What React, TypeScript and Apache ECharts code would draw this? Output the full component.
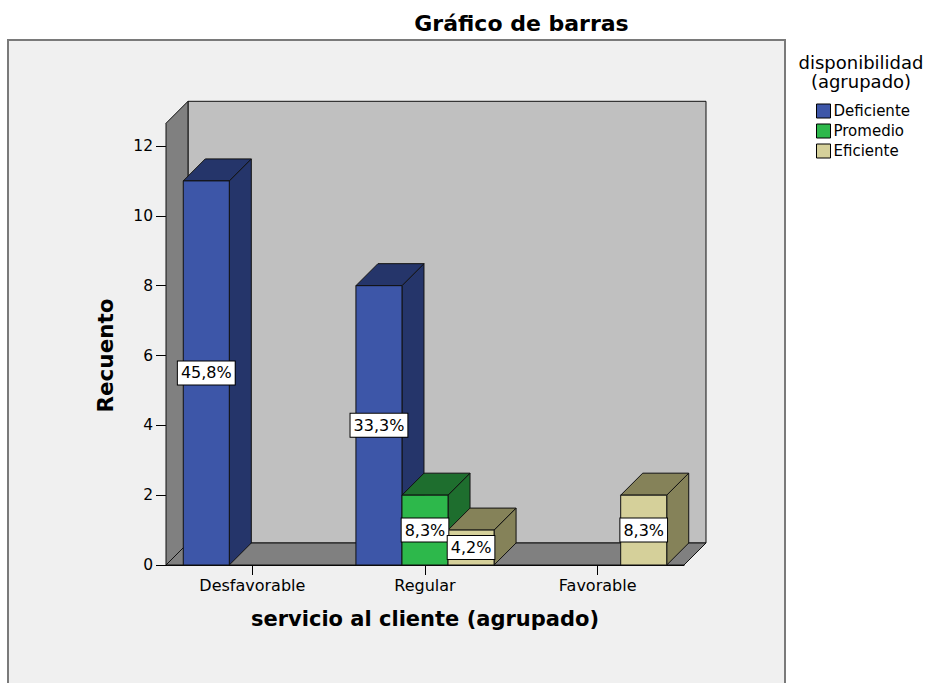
import React, { useEffect, useRef } from 'react';
import * as echarts from 'echarts';

const categories = ['Desfavorable', 'Regular', 'Favorable'];
const seriesNames = ['Deficiente', 'Promedio', 'Eficiente'];
const deficiente = [11, 8, 0];
const promedio = [0, 2, 0];
const eficiente = [0, 1, 2];
const yTicks = [0, 2, 4, 6, 8, 10, 12];
const wallTopValue = 12.65;

const frontColors = ['#3d56a8', '#2db84b', '#d5d09a'];
const darkColors = ['#25356a', '#1e6e2e', '#858259'];
const FONT = '"DejaVu Sans", sans-serif';
const DEPTH = 22;

const allValues = [deficiente, promedio, eficiente];
const total = allValues.reduce((a, arr) => a + arr.reduce((b, v) => b + v, 0), 0);

const pct = (v: number) => (v / total * 100).toFixed(1).replace('.', ',') + '%';

export default function App() {
  const ref = useRef<HTMLDivElement>(null);
  useEffect(() => {
    if (!ref.current) return;
    const chart = echarts.init(ref.current, null, { renderer: 'svg' });

    const barGeom = (api: any, c: number, v: number, s: number) => {
      const band = api.size([1, 0])[0];
      const bw = (band * 0.8) / 3;
      const cx = api.coord([c, 0])[0];
      const x0 = cx - band * 0.4 + s * bw;
      const yb = api.coord([c, 0])[1];
      const yt = api.coord([c, v])[1];
      return { x0, x1: x0 + bw, bw, yb, yt };
    };

    const barSeries = allValues.map((vals, s) => ({
      type: 'custom',
      name: seriesNames[s],
      coordinateSystem: 'cartesian2d',
      clip: false,
      z: 2,
      itemStyle: { color: frontColors[s], borderColor: '#000', borderWidth: 1 },
      encode: { x: 0, y: 1 },
      data: vals.map((v, i) => [i, v]),
      renderItem: (params: any, api: any) => {
        const c = api.value(0);
        const v = api.value(1);
        if (!v) return null;
        const g = barGeom(api, c, v, s);
        const D = DEPTH;
        const st = (fill: string) => ({ fill, stroke: '#111', lineWidth: 1 });
        return {
          type: 'group',
          children: [
            {
              type: 'polygon',
              shape: { points: [[g.x1, g.yt], [g.x1 + D, g.yt - D], [g.x1 + D, g.yb - D], [g.x1, g.yb]] },
              style: st(darkColors[s]),
            },
            {
              type: 'polygon',
              shape: { points: [[g.x0, g.yt], [g.x0 + D, g.yt - D], [g.x1 + D, g.yt - D], [g.x1, g.yt]] },
              style: st(darkColors[s]),
            },
            {
              type: 'rect',
              shape: { x: g.x0, y: g.yt, width: g.bw, height: g.yb - g.yt },
              style: st(frontColors[s]),
            },
          ],
        };
      },
    }));

    const labelData: number[][] = [];
    allValues.forEach((vals, s) => vals.forEach((v, i) => { if (v > 0) labelData.push([i, v, s]); }));

    const option: any = {
      animation: false,
      graphic: [
        {
          type: 'rect',
          z: -10,
          shape: { x: 8, y: 40, width: 777, height: 700 },
          style: { fill: '#f0f0f0', stroke: '#7a7a7a', lineWidth: 2 },
        },
        {
          type: 'text',
          x: 521.5,
          y: 23,
          style: {
            text: 'Gráfico de barras',
            font: 'bold 22px "DejaVu Sans", sans-serif',
            fill: '#000',
            align: 'center',
            verticalAlign: 'middle',
            textAlign: 'center',
            textVerticalAlign: 'middle',
          },
        },
        {
          type: 'text',
          x: 861,
          y: 53,
          style: {
            text: 'disponibilidad\n(agrupado)',
            font: '18px "DejaVu Sans", sans-serif',
            lineHeight: 19,
            fill: '#000',
            align: 'center',
            verticalAlign: 'top',
            textAlign: 'center',
            textVerticalAlign: 'top',
          },
        },
      ],
      legend: {
        orient: 'vertical',
        left: 811,
        top: 96,
        itemWidth: 14,
        itemHeight: 14,
        itemGap: 0,
        selectedMode: false,
        icon: 'rect',
        data: seriesNames,
        itemStyle: { borderColor: '#000', borderWidth: 1 },
        textStyle: { fontSize: 15, fontFamily: FONT, color: '#000', lineHeight: 20, padding: [0, 0, 0, -2] },
      },
      grid: { left: 166, right: 245, top: 146, bottom: 118, containLabel: false, outerBoundsMode: 'none' },
      xAxis: {
        type: 'category',
        data: categories,
        axisLine: { show: true, lineStyle: { color: '#000' } },
        axisTick: { show: true, alignWithLabel: true, length: 10, lineStyle: { color: '#000' } },
        axisLabel: { margin: 12, fontSize: 16, fontFamily: FONT, color: '#000' },
        splitLine: { show: false },
        name: 'servicio al cliente (agrupado)',
        nameLocation: 'middle',
        nameGap: 43,
        nameTextStyle: { fontWeight: 'bold', fontSize: 21, fontFamily: FONT, color: '#000' },
      },
      yAxis: {
        type: 'value',
        min: yTicks[0],
        max: yTicks[yTicks.length - 1],
        interval: yTicks[1] - yTicks[0],
        splitLine: { show: false },
        axisLine: { show: true, lineStyle: { color: '#000' } },
        axisTick: { show: true, length: 10, lineStyle: { color: '#000' } },
        axisLabel: { margin: 13, fontSize: 15.5, fontFamily: FONT, color: '#000' },
        name: 'Recuento',
        nameLocation: 'middle',
        nameGap: 50,
        nameRotate: 90,
        nameTextStyle: { fontWeight: 'bold', fontSize: 21.5, fontFamily: FONT, color: '#000' },
      },
      series: [
        {
          type: 'custom',
          name: '__walls',
          coordinateSystem: 'cartesian2d',
          clip: false,
          z: 1,
          silent: true,
          data: [[0, 0]],
          encode: { x: 0, y: 1 },
          renderItem: (params: any, api: any) => {
            const cs = params.coordSys;
            const left = cs.x;
            const right = cs.x + cs.width;
            const yb = api.coord([0, 0])[1];
            const yt = api.coord([0, wallTopValue])[1];
            const D = DEPTH;
            const st = (fill: string) => ({ fill, stroke: '#111', lineWidth: 1 });
            return {
              type: 'group',
              children: [
                {
                  type: 'rect',
                  shape: { x: left + D, y: yt - D, width: right - left, height: yb - yt },
                  style: st('#c0c0c0'),
                },
                {
                  type: 'polygon',
                  shape: { points: [[left, yt], [left + D, yt - D], [left + D, yb - D], [left, yb]] },
                  style: st('#808080'),
                },
                {
                  type: 'polygon',
                  shape: { points: [[left, yb], [left + D, yb - D], [right + D, yb - D], [right, yb]] },
                  style: st('#808080'),
                },
              ],
            };
          },
        },
        ...barSeries,
        {
          type: 'custom',
          name: '__labels',
          coordinateSystem: 'cartesian2d',
          clip: false,
          z: 3,
          silent: true,
          data: labelData,
          encode: { x: 0, y: 1 },
          renderItem: (params: any, api: any) => {
            const c = api.value(0);
            const v = api.value(1);
            const s = api.value(2);
            const g = barGeom(api, c, v, s);
            return {
              type: 'text',
              x: g.x0 + g.bw / 2,
              y: (g.yb + g.yt) / 2,
              style: {
                text: pct(v),
                font: '16px "DejaVu Sans", sans-serif',
                fill: '#000',
                align: 'center',
                verticalAlign: 'middle',
                backgroundColor: '#fff',
                borderColor: '#000',
                borderWidth: 1,
                padding: [3, 3],
                lineHeight: 17,
              },
            };
          },
        },
      ],
    };
    chart.setOption(option);
    return () => chart.dispose();
  }, []);
  return (
    <div
      ref={ref}
      style={{ position: 'fixed', left: 0, top: 0, width: 929, height: 683, background: '#fff' }}
    />
  );
}
